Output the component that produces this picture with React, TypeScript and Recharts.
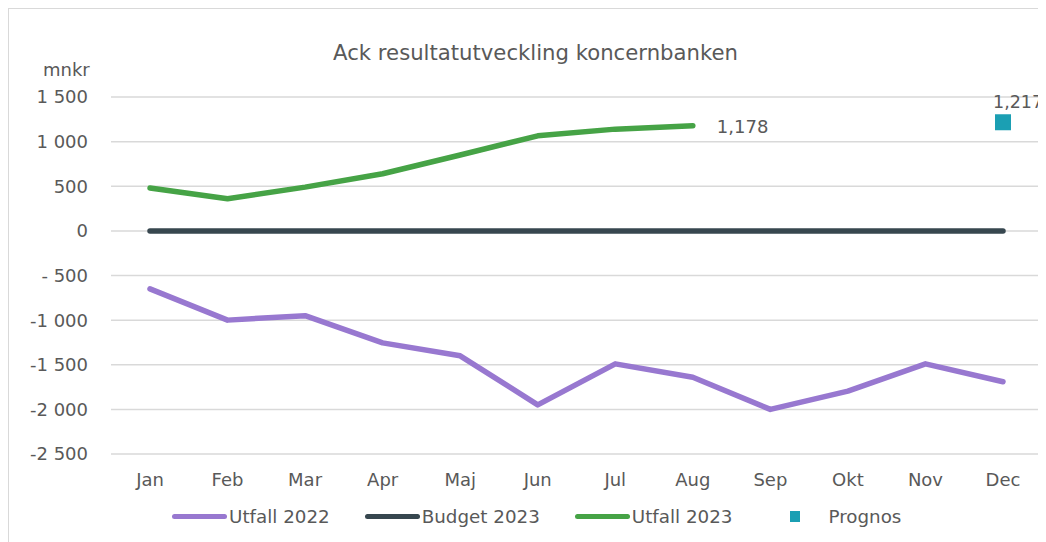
import React from 'react';
import { ComposedChart, Line, XAxis, YAxis, CartesianGrid, Legend } from 'recharts';

const months = ['Jan', 'Feb', 'Mar', 'Apr', 'Maj', 'Jun', 'Jul', 'Aug', 'Sep', 'Okt', 'Nov', 'Dec'];
const utfall2022 = [-650, -1000, -950, -1255, -1400, -1950, -1490, -1640, -2000, -1795, -1490, -1690];
const budget2023 = [0, 0, 0, 0, 0, 0, 0, 0, 0, 0, 0, 0];
const utfall2023 = [480, 360, 490, 640, 850, 1065, 1140, 1178, null, null, null, null];
const prognos = [null, null, null, null, null, null, null, null, null, null, null, 1217];

const yTicks = [1500, 1000, 500, 0, -500, -1000, -1500, -2000, -2500];
const yTickLabels = ['1 500', '1 000', '500', '0', '- 500', '-1 000', '-1 500', '-2 000', '-2 500'];

const FONT = '"DejaVu Sans", Verdana, sans-serif';
const TEXT = '#595959';
const C_2022 = '#9878d0';
const C_BUDGET = '#37474f';
const C_2023 = '#46a346';
const C_PROG = '#1b9fb3';

const W = 1037;
const H = 533;

const data = months.map((m, i) => ({
    month: m,
    utfall2022: utfall2022[i],
    budget2023: budget2023[i],
    utfall2023: utfall2023[i],
    prognos: prognos[i],
}));

const fmt = (v: number) => v.toLocaleString('en-US');

// label only on the last actual point of 2023
const lastIdx2023 = utfall2023.reduce((acc: number, v, i) => (v != null ? i : acc), -1);

const Label2023 = (props: any) => {
    const { x, y, index, value } = props;
    if (index !== lastIdx2023 || value == null) return null;
    return (
        <text x={x + 24} y={y} dy="0.4em" fill={TEXT} fontSize={18} fontFamily={FONT}>
            {fmt(value)}
        </text>
    );
};

const PrognosDot = (props: any) => {
    const { cx, cy, payload, index } = props;
    if (payload.prognos == null || cy == null) return <g key={index} />;
    return (
        <g key={index}>
            <rect x={cx - 8} y={cy - 8} width={16} height={16} fill={C_PROG} />
            <text x={cx - 10} y={cy - 14} fill={TEXT} fontSize={17.5} fontFamily={FONT}>
                {fmt(payload.prognos)}
            </text>
        </g>
    );
};

const legendItems = [
    { name: 'Utfall 2022', color: C_2022, type: 'line' },
    { name: 'Budget 2023', color: C_BUDGET, type: 'line' },
    { name: 'Utfall 2023', color: C_2023, type: 'line' },
    { name: 'Prognos', color: C_PROG, type: 'square' },
];

const CustomLegend = () => (
    <div style={{ height: 30, display: 'flex', alignItems: 'center', paddingLeft: 163, fontFamily: FONT, fontSize: 18.3, color: TEXT }}>
        {legendItems.map((it, i) => (
            <div key={it.name} style={{ display: 'flex', alignItems: 'center', marginRight: i === 2 ? 58 : 35 }}>
                {it.type === 'line' ? (
                    <span style={{ display: 'inline-block', width: 55, height: 5, borderRadius: 3, background: it.color, marginRight: 2 }} />
                ) : (
                    <span style={{ display: 'inline-block', width: 10, height: 11, background: it.color, marginRight: 28 }} />
                )}
                <span>{it.name}</span>
            </div>
        ))}
    </div>
);

export default function App() {
    return (
        <div style={{ position: 'relative', width: W, height: H, borderLeft: '1px solid #d9d9d9', borderTop: '1px solid #d9d9d9' }}>
            <div style={{ position: 'absolute', top: 31, left: 0, width: W + 16, textAlign: 'center', fontFamily: FONT, fontSize: 21.2, color: TEXT }}>
                Ack resultatutveckling koncernbanken
            </div>
            <div style={{ position: 'absolute', top: 50, left: 34, fontFamily: FONT, fontSize: 18, color: TEXT }}>
                mnkr
            </div>
            <ComposedChart width={W} height={H} data={data} margin={{ top: 88, right: 4, left: 0, bottom: 11 }}>
                <CartesianGrid vertical={false} stroke="#d9d9d9" strokeWidth={1.5} />
                <XAxis
                    dataKey="month"
                    axisLine={false}
                    tickLine={false}
                    tickSize={0}
                    tickMargin={19}
                    height={47}
                    padding={{ left: 39, right: 39 }}
                    interval={0}
                    tick={{ fontSize: 18, fill: TEXT, fontFamily: FONT }}
                />
                <YAxis
                    domain={[-2500, 1500]}
                    ticks={yTicks}
                    interval={0}
                    axisLine={false}
                    tickLine={false}
                    tickSize={0}
                    tickMargin={23}
                    width={102}
                    tick={{ fontSize: 18, fill: TEXT, fontFamily: FONT }}
                    tickFormatter={(v: number) => yTickLabels[yTicks.indexOf(v)]}
                />
                <Legend verticalAlign="bottom" content={<CustomLegend />} wrapperStyle={{ left: 0, width: W }} />
                <Line
                    dataKey="utfall2022"
                    stroke={C_2022}
                    strokeWidth={5.5}
                    strokeLinecap="round"
                    strokeLinejoin="round"
                    dot={false}
                    isAnimationActive={false}
                />
                <Line
                    dataKey="budget2023"
                    stroke={C_BUDGET}
                    strokeWidth={5.5}
                    strokeLinecap="round"
                    dot={false}
                    isAnimationActive={false}
                />
                <Line
                    dataKey="utfall2023"
                    stroke={C_2023}
                    strokeWidth={5.5}
                    strokeLinecap="round"
                    strokeLinejoin="round"
                    dot={false}
                    label={<Label2023 />}
                    isAnimationActive={false}
                />
                <Line
                    dataKey="prognos"
                    stroke="none"
                    dot={<PrognosDot />}
                    activeDot={false}
                    isAnimationActive={false}
                />
            </ComposedChart>
        </div>
    );
}
